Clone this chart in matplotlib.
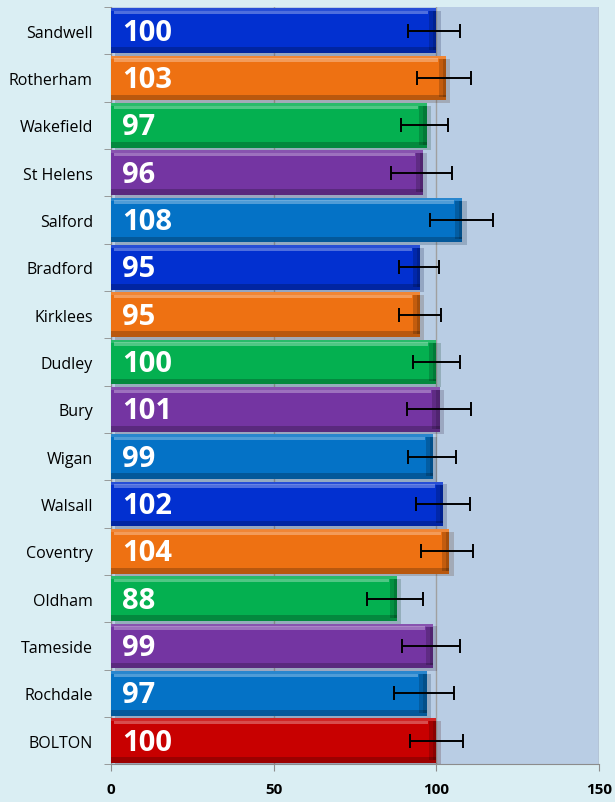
import matplotlib.pyplot as plt
import matplotlib.patheffects as pe
import numpy as np

# Données
districts = ['Sandwell', 'Rotherham', 'Wakefield', 'St Helens', 'Salford', 'Bradford',
             'Kirklees', 'Dudley', 'Bury', 'Wigan', 'Walsall', 'Coventry', 'Oldham',
             'Tameside', 'Rochdale', 'BOLTON']
values = [100, 103, 97, 96, 108, 95, 95, 100, 101, 99, 102, 104, 88, 99, 97, 100]
ci_low = [91.4, 94.1, 89.2, 86.0, 98.1, 88.6, 88.4, 92.7, 90.9, 91.4, 93.7, 95.3, 78.6, 89.5, 86.9, 91.8]
ci_high = [107.3, 110.5, 103.5, 104.8, 117.3, 100.8, 101.5, 107.3, 110.5, 106.1, 110.4, 111.4, 95.8, 107.3, 105.4, 108.1]
bar_colors = ['#0230d0', '#ee7112', '#04b050', '#7435a2', '#0472c6',
              '#0230d0', '#ee7112', '#04b050', '#7435a2', '#0472c6',
              '#0230d0', '#ee7112', '#04b050', '#7435a2', '#0472c6', '#c80000']

fig = plt.figure(figsize=(6.15, 8.03), dpi=100, facecolor='#daeef3')
ax = fig.add_axes([0.1805, 0.047, 0.7935, 0.943])
ax.set_facecolor('#b9cde4')

y = np.arange(len(districts))
h = 0.94

# Barres principales avec ombre douce
bars = ax.barh(y, values, height=h, color=bar_colors, zorder=3)
for b in bars:
    b.set_path_effects([pe.SimplePatchShadow(offset=(3, -2), alpha=0.2, rho=0.3), pe.Normal()])

# Effet biseau : reflet en haut, ombre en bas, extrémité foncée
v = np.array(values)
ax.barh(y - h / 2 + 0.09, v - 3.5, left=1.0, height=0.07, color='white', alpha=0.3, zorder=4, lw=0)
ax.barh(y - h / 2 + 0.03, v, height=0.06, color='white', alpha=0.15, zorder=4, lw=0)
ax.barh(y + h / 2 - 0.06, v, height=0.12, color='black', alpha=0.22, zorder=4, lw=0)
ax.barh(y, np.full(len(v), 2.2), left=v - 2.2, height=h - 0.12, color='black', alpha=0.18, zorder=4, lw=0)
ax.barh(y, np.full(len(v), 1.0), left=v - 1.0, height=h - 0.12, color='black', alpha=0.15, zorder=4, lw=0)

# Barres d'erreur
lo = np.array(ci_low)
hi = np.array(ci_high)
ax.errorbar((lo + hi) / 2, y, xerr=(hi - lo) / 2, fmt='none', ecolor='black',
            elinewidth=1.4, capsize=5, capthick=1.4, zorder=6)

# Étiquettes de valeur
for yi, val in zip(y, values):
    ax.text(3.5, yi + 0.03, str(val), color='white', fontsize=21, fontweight='bold',
            family='Open Sans', ha='left', va='center', zorder=7)

ax.set_xlim(0, 150)
ax.set_ylim(len(districts) - 0.5, -0.5)
ax.set_xticks([0, 50, 100, 150])
ax.set_xticklabels(['0', '50', '100', '150'], fontweight='bold', fontsize=11, family='Open Sans')
ax.set_yticks(y)
ax.set_yticklabels(districts, fontsize=11.5, family='Open Sans')
ax.set_yticks(np.arange(len(districts) + 1) - 0.5, minor=True)
ax.tick_params(axis='y', which='major', length=0, pad=13)
ax.tick_params(axis='y', which='minor', length=5, color='#8c8c8c')
ax.tick_params(axis='x', length=5, color='#8c8c8c', pad=8)
ax.grid(axis='x', color='#a0a0a0', lw=1, zorder=1)
ax.set_axisbelow(True)
for s in ['top', 'right']:
    ax.spines[s].set_visible(False)
for s in ['left', 'bottom']:
    ax.spines[s].set_color('#8c8c8c')

fig.savefig('out.png', dpi=100, facecolor=fig.get_facecolor())
